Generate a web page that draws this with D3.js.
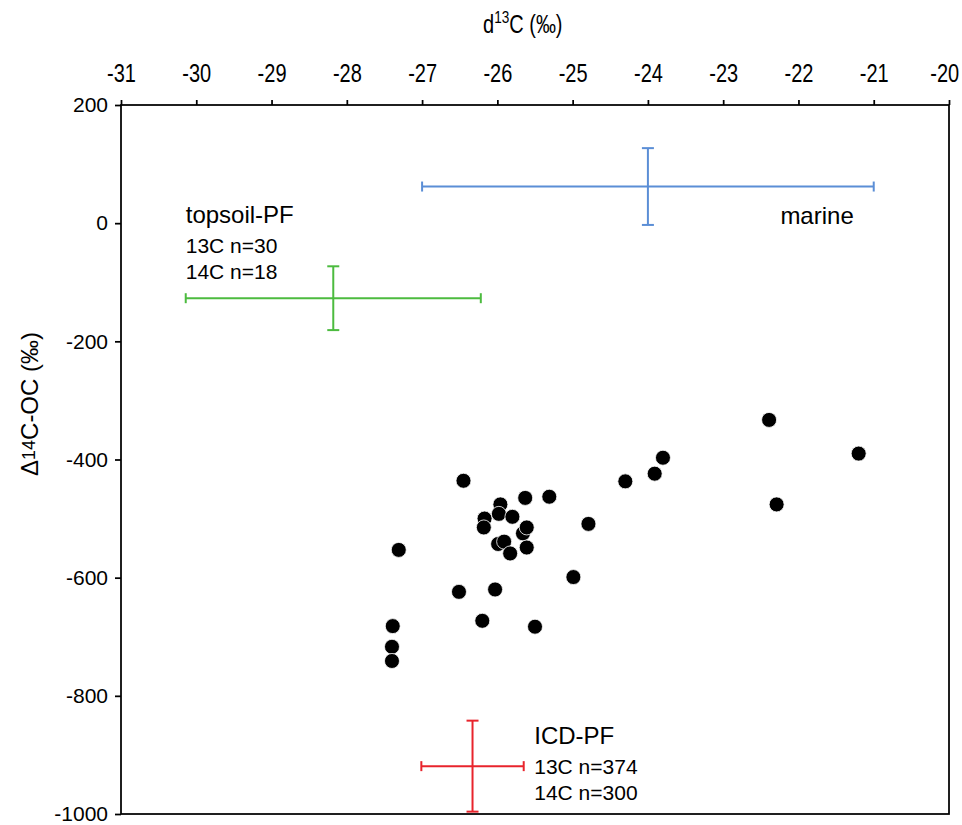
<!DOCTYPE html>
<html>
<head>
<meta charset="utf-8">
<script src="https://cdn.jsdelivr.net/npm/d3@7"></script>
<style>
  body { margin: 0; background: #fff; }
  svg { display: block; }
  .sans { font-family: "Liberation Sans", Arial, sans-serif; }
</style>
</head>
<body>
<div id="chart"></div>
<script>
// d13C / D14C of each sample
const d13C = [-25.96, -26.17, -25.66, -25.99,
              -26.45, -27.31, -26.51, -26.03, -24.99, -24.79, -25.31, -25.63,
              -27.39, -27.40, -27.40, -26.20, -25.50, -22.39, -21.20, -22.29,
              -23.80, -23.91, -24.30,
              -25.98, -25.80, -26.18, -25.61, -25.91, -25.83, -25.61];
const D14C = [-476, -500, -525, -543,
              -436, -553, -624, -620, -599, -509, -463, -465,
              -682, -717, -741, -673, -683, -333, -390, -476,
              -397, -424, -437,
              -492, -497, -515, -515, -539, -559, -549];

// end-member means with error bars
const groups = ["topsoil-PF", "marine", "ICD-PF"];
const groupX = [-28.18, -24.0, -26.33];
const groupXErr = [1.96, 3.0, 0.68];
const groupY = [-127, 62, -919];
const groupYErr = [54, 65, 77];
const groupColors = ["#4cbb3f", "#5b8ed6", "#e8242c"];

// annotation text and anchor (data coords)
const labelX = [-30.14, -22.24, -25.51];
const labelY = [0, -2, -882];
const labelSub = [["13C n=30", "14C n=18"], [], ["13C n=374", "14C n=300"]];

const xTicks = d3.range(-31, -19, 1);
const yTicks = [200, 0, -200, -400, -600, -800, -1000];

const width = 962, height = 825;
const margin = { top: 105, left: 121, right: 13, bottom: 11 };
const narrow = 0.8; // the top axis uses a condensed face

const svg = d3.select("#chart").append("svg")
  .attr("width", width)
  .attr("height", height);

const x = d3.scaleLinear().domain([-31, -20]).range([margin.left, width - margin.right]);
const y = d3.scaleLinear().domain([-1000, 200]).range([height - margin.bottom, margin.top]);

// top axis
const xAxis = svg.append("g")
  .attr("transform", "translate(0," + margin.top + ")")
  .call(d3.axisTop(x).tickValues(xTicks).tickSize(5).tickSizeOuter(0).tickPadding(18).tickFormat(d => String(d)));
xAxis.selectAll("text")
  .attr("class", "sans").attr("font-size", 25).attr("fill", "#000")
  .attr("transform", "scale(" + narrow + ",1)")
  // last label is kept inside the picture, as in the original
  .attr("dx", d => d === -20 ? -6 : 0);

// left axis
const yAxis = svg.append("g")
  .attr("transform", "translate(" + margin.left + ",0)")
  .call(d3.axisLeft(y).tickValues(yTicks).tickSize(6).tickPadding(7).tickSizeOuter(0).tickFormat(d => String(d)));
yAxis.selectAll("text").attr("class", "sans").attr("font-size", 21).attr("fill", "#000");

svg.selectAll(".domain").remove();
svg.selectAll(".tick line").attr("stroke", "#000").attr("stroke-width", 1.75);

// frame
svg.append("rect")
  .attr("x", x(-31)).attr("y", y(200))
  .attr("width", x(-20) - x(-31)).attr("height", y(-1000) - y(200))
  .attr("fill", "none").attr("stroke", "#000").attr("stroke-width", 1.75);

// axis titles
const xt = svg.append("g")
  .attr("transform", "translate(483,33) scale(" + narrow + ",1)")
  .append("text").attr("class", "sans").attr("font-size", 25);
xt.append("tspan").text("d");
xt.append("tspan").attr("font-size", 17).attr("dy", -10).text("13");
xt.append("tspan").attr("dy", 10).text("C (‰)");

const yt = svg.append("text").attr("class", "sans")
  .attr("transform", "translate(38,404) rotate(-90)")
  .attr("text-anchor", "middle").attr("font-size", 24);
yt.append("tspan").text("Δ");
yt.append("tspan").attr("font-size", 18).attr("dy", -3).text("14");
yt.append("tspan").attr("dy", 3).text("C-OC (‰)");

// error bars
const bars = svg.append("g").selectAll("g")
  .data(groups.map((g, i) => ({ name: g, i: i })))
  .enter().append("g")
  .attr("stroke", d => groupColors[d.i])
  .attr("stroke-width", 2)
  .attr("fill", "none");

bars.append("line")
  .attr("x1", d => x(groupX[d.i] - groupXErr[d.i])).attr("x2", d => x(groupX[d.i] + groupXErr[d.i]))
  .attr("y1", d => y(groupY[d.i])).attr("y2", d => y(groupY[d.i]));
bars.append("line")
  .attr("x1", d => x(groupX[d.i])).attr("x2", d => x(groupX[d.i]))
  .attr("y1", d => y(groupY[d.i] - groupYErr[d.i])).attr("y2", d => y(groupY[d.i] + groupYErr[d.i]));
// caps
[-1, 1].forEach(s => {
  bars.append("line")
    .attr("x1", d => x(groupX[d.i] + s * groupXErr[d.i])).attr("x2", d => x(groupX[d.i] + s * groupXErr[d.i]))
    .attr("y1", d => y(groupY[d.i]) - 5).attr("y2", d => y(groupY[d.i]) + 5);
  bars.append("line")
    .attr("x1", d => x(groupX[d.i]) - 6).attr("x2", d => x(groupX[d.i]) + 6)
    .attr("y1", d => y(groupY[d.i] + s * groupYErr[d.i])).attr("y2", d => y(groupY[d.i] + s * groupYErr[d.i]));
});

// sample points
svg.append("g").selectAll("circle")
  .data(d13C.map((v, i) => [v, D14C[i]]))
  .enter().append("circle")
  .attr("cx", d => x(d[0]))
  .attr("cy", d => y(d[1]))
  .attr("r", 7.5)
  .attr("fill", "#000")
  .attr("stroke", "#fff")
  .attr("stroke-width", 0.8);

// annotations
groups.forEach((g, i) => {
  svg.append("text").attr("class", "sans").attr("font-size", 24)
    .attr("x", x(labelX[i])).attr("y", y(labelY[i]))
    .text(g);
  labelSub[i].forEach((s, j) => {
    svg.append("text").attr("class", "sans").attr("font-size", 21)
      .attr("x", x(labelX[i])).attr("y", y(labelY[i]) + 30 + j * 26)
      .text(s);
  });
});
</script>
</body>
</html>
